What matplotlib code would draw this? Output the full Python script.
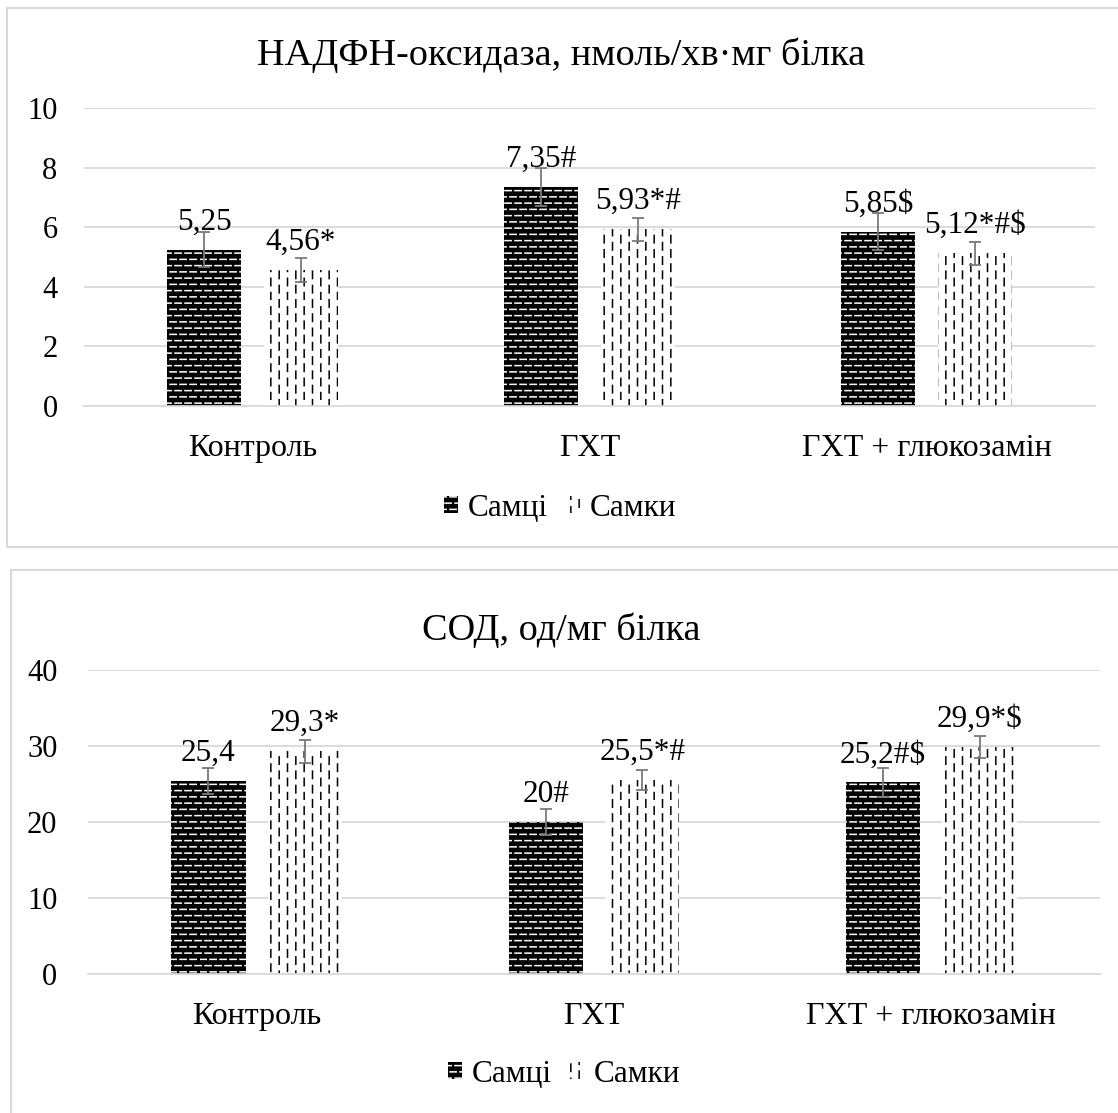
import numpy as np
import matplotlib
matplotlib.use("Agg")
import matplotlib.pyplot as plt
from matplotlib import hatch as mhatch
from matplotlib.path import Path
from matplotlib.patches import Patch, Rectangle
from matplotlib.transforms import offset_copy

# ---- data -------------------------------------------------------------
groups = ["Контроль", "ГХТ", "ГХТ + глюкозамін"]
series = ["Самці", "Самки"]

nox_title = "НАДФН-оксидаза, нмоль/хв·мг білка"
nox_male = [5.25, 7.35, 5.85]
nox_female = [4.56, 5.93, 5.12]
nox_male_err = [0.60, 0.63, 0.62]
nox_female_err = [0.40, 0.38, 0.40]
nox_male_marks = ["", "#", "$"]
nox_female_marks = ["*", "*#", "*#$"]
nox_ticks = [0, 2, 4, 6, 8, 10]

sod_title = "СОД, од/мг білка"
sod_male = [25.4, 20, 25.2]
sod_female = [29.3, 25.5, 29.9]
sod_male_err = [1.75, 1.75, 1.85]
sod_female_err = [1.5, 1.3, 1.45]
sod_male_marks = ["", "#", "#$"]
sod_female_marks = ["*", "*#", "*$"]
sod_ticks = [0, 10, 20, 30, 40]


# ---- dashed fill patterns --------------------------------------------
def _dash_lines(n_lines, n_dash, frac, vertical):
    segs = []
    period = 1.0 / n_dash
    for i in range(n_lines):
        c = (i + 0.5) / n_lines
        off = (i % 2) * period / 2
        for j in range(n_dash):
            a = j * period + off
            b = a + frac * period
            pieces = [(a, min(b, 1.0))]
            if b > 1.0:
                pieces.append((0.0, b - 1.0))
            for s, e in pieces:
                if vertical:
                    segs.append(((c, s), (c, e)))
                else:
                    segs.append(((s, c), (e, c)))
    return segs


class _DashHatch(mhatch.HatchPatternBase):
    key = None
    params = None

    def __init__(self, hatch, density):
        self.segs = _dash_lines(*self.params) if self.key in hatch else []
        self.num_vertices = 2 * len(self.segs)

    def set_vertices_and_codes(self, vertices, codes):
        for i, (p, q) in enumerate(self.segs):
            vertices[2 * i] = p
            vertices[2 * i + 1] = q
        codes[0::2] = Path.MOVETO
        codes[1::2] = Path.LINETO


class _RowDashes(_DashHatch):
    key = "-"
    params = (16, 10, 0.62, False)


class _ColumnDashes(_DashHatch):
    key = "|"
    params = (12, 7, 0.52, True)


mhatch._hatch_types = [_RowDashes, _ColumnDashes]

plt.rcParams["font.family"] = ["Liberation Serif", "DejaVu Serif"]
plt.rcParams["hatch.linewidth"] = 1.1

W, H = 1118, 1113
fig = plt.figure(figsize=(W / 100, H / 100), dpi=100)

GRID = "#d9d9d9"
ERR = "#7a7a7a"


def fmt(v):
    return f"{v:g}".replace(".", ",")


def panel(rect, title, title_y, male, female, male_err, female_err,
          male_marks, female_marks, ticks, legend_xy, ypad):
    ax = fig.add_axes(rect)
    x = np.arange(len(groups))
    width, off = 0.22, 0.143
    ax.bar(x - off, male, width, facecolor="black", edgecolor="white",
           linewidth=0, hatch="-", zorder=2)
    ax.bar(x + off, female, width, facecolor="white", edgecolor="black",
           linewidth=0, hatch="|", zorder=2)
    ax.errorbar(x - off, male, yerr=male_err, fmt="none", ecolor=ERR,
                elinewidth=1.3, capsize=4, capthick=1.3, zorder=3)
    ax.errorbar(x + off, female, yerr=female_err, fmt="none", ecolor=ERR,
                elinewidth=1.3, capsize=4, capthick=1.3, zorder=3)
    lift = offset_copy(ax.transData, fig=fig, x=0, y=14.5, units="points")
    for xi, v, m in zip(x - off, male, male_marks):
        ax.text(xi, v, fmt(v) + m, ha="center", va="baseline",
                fontsize=22.5, transform=lift, zorder=4)
    for xi, v, m in zip(x + off, female, female_marks):
        ax.text(xi, v, fmt(v) + m, ha="center", va="baseline",
                fontsize=22.5, transform=lift, zorder=4)

    ax.set_xlim(-0.5, len(groups) - 0.5)
    ax.set_ylim(ticks[0], ticks[-1])
    ax.set_yticks(ticks)
    ax.set_yticklabels([str(t) for t in ticks])
    ax.set_xticks(x)
    ax.set_xticklabels(groups)
    ax.yaxis.grid(True, color=GRID, linewidth=1.3, zorder=0)
    ax.set_axisbelow(True)
    for s in ("top", "right", "left"):
        ax.spines[s].set_visible(False)
    ax.spines["bottom"].set_color(GRID)
    ax.spines["bottom"].set_linewidth(1.3)
    ax.tick_params(axis="y", length=0, pad=ypad, labelsize=22)
    ax.tick_params(axis="x", length=0, pad=20, labelsize=23)

    fig.text(0.5018, title_y, title, ha="center", va="center", fontsize=27.5)

    handles = [Patch(facecolor="black", edgecolor="white", linewidth=0, hatch="-"),
               Patch(facecolor="white", edgecolor="black", linewidth=0, hatch="|")]
    ax.legend(handles, series, loc="center", bbox_to_anchor=legend_xy,
              bbox_transform=fig.transFigure, ncol=2, frameon=False,
              fontsize=22.5, handlelength=0.45, handleheight=0.45,
              handletextpad=0.3, columnspacing=0.6, borderaxespad=0)
    return ax


panel([84 / W, 1 - 406 / H, (1095 - 84) / W, (406 - 108) / H],
      nox_title, 1 - 55 / H, nox_male, nox_female, nox_male_err,
      nox_female_err, nox_male_marks, nox_female_marks, nox_ticks,
      (560 / W, 1 - 508 / H), 19)

panel([88 / W, 1 - 974 / H, (1100 - 88) / W, (974 - 670) / H],
      sod_title, 1 - 630 / H, sod_male, sod_female, sod_male_err,
      sod_female_err, sod_male_marks, sod_female_marks, sod_ticks,
      (564 / W, 1 - 1074 / H), 22)

# chart frames
for (x0, y0, y1) in [(7, 8, 547), (11, 570, 1130)]:
    fig.patches.append(Rectangle((x0 / W, 1 - y1 / H), (1140 - x0) / W,
                                 (y1 - y0) / H, transform=fig.transFigure,
                                 fill=False, edgecolor=GRID, linewidth=1.5))

fig.savefig("out.png", dpi=100)
